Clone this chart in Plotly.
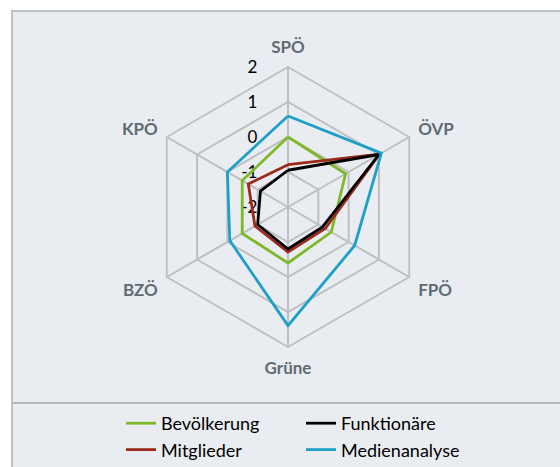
import plotly.graph_objects as go

categories = ["SPÖ", "ÖVP", "FPÖ", "Grüne", "BZÖ", "KPÖ"]
bevoelkerung = [0.0, -0.1, -0.57, -0.4, -0.49, -0.49]
mitglieder = [-0.79, 1.02, -0.77, -0.71, -0.91, -0.69]
funktionaere = [-0.95, 1.0, -0.86, -0.8, -1.0, -1.09]
medienanalyse = [0.6, 1.08, 0.2, 1.39, -0.08, 0.0]
tick_values = [-2, -1, 0, 1, 2]
tick_labels = ["-2", "-1", "0", "1", "2"]

series = [
    ("Bevölkerung", bevoelkerung, "#7DB928", "legend"),
    ("Mitglieder", mitglieder, "#9B2A1B", "legend"),
    ("Funktionäre", funktionaere, "#000000", "legend2"),
    ("Medienanalyse", medienanalyse, "#1E9FC8", "legend2"),
]

fig = go.Figure()
for name, vals, color, leg in series:
    fig.add_trace(go.Scatterpolar(
        r=vals + vals[:1],
        theta=categories + categories[:1],
        mode="lines",
        name=name,
        line=dict(color=color, width=2.8),
        legend=leg,
    ))

W, H = 560, 467
cx, cy, R = 288, 207, 140

legend_common = dict(
    orientation="v",
    yanchor="top",
    font=dict(size=18, color="#000000"),
    bgcolor="rgba(0,0,0,0)",
    itemwidth=30,
    tracegroupgap=0,
)

pad = "\u2003\u2003\u2009"

fig.update_layout(
    width=W, height=H,
    margin=dict(l=0, r=0, t=0, b=0, autoexpand=False),
    paper_bgcolor="white",
    font=dict(family="Lato, Open Sans, sans-serif"),
    polar=dict(
        domain=dict(x=[(cx - R) / W, (cx + R) / W],
                    y=[(H - cy - R) / H, (H - cy + R) / H]),
        bgcolor="rgba(0,0,0,0)",
        gridshape="linear",
        radialaxis=dict(
            range=[-2, 2], tickvals=tick_values,
            ticktext=[t + pad for t in tick_labels],
            showline=False, ticks="",
            angle=90, tickangle=90, side="counterclockwise",
            layer="below traces",
            gridcolor="#BFBFBF", gridwidth=1.8,
            tickfont=dict(size=17, color="#000000"),
        ),
        angularaxis=dict(
            direction="clockwise", rotation=90,
            showline=True, linecolor="#BFBFBF", linewidth=1.8,
            gridcolor="#BFBFBF", gridwidth=1.8, layer="below traces",
            ticks="outside", ticklen=6, tickcolor="rgba(0,0,0,0)",
            tickfont=dict(size=17, color="#5F6B73", weight="bold"),
        ),
    ),
    showlegend=True,
    legend=dict(x=121 / W, xanchor="left", y=1 - 405 / H, **legend_common),
    legend2=dict(x=301 / W, xanchor="left", y=1 - 405 / H, **legend_common),
    shapes=[
        dict(type="rect", xref="paper", yref="paper", layer="below",
             x0=12 / W, x1=1.05, y0=-0.05, y1=1 - 11 / H,
             fillcolor="#E9EDF1", line=dict(color="#BDC2C6", width=2)),
        dict(type="line", xref="paper", yref="paper", layer="below",
             x0=12 / W, x1=1.05, y0=1 - 403 / H, y1=1 - 403 / H,
             line=dict(color="#B4B9BE", width=2)),
    ],
)

fig.write_html(
    "out.html",
    config={"displayModeBar": False},
    post_script="document.body.style.margin='0';document.body.style.overflow='hidden';",
)
